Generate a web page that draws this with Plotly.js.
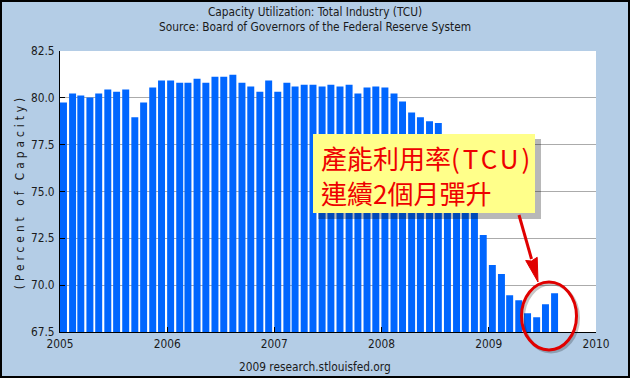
<!DOCTYPE html>
<html>
<head>
<meta charset="utf-8">
<script src="https://cdn.plot.ly/plotly-3.0.1.min.js"></script>
<style>
  html, body { margin: 0; padding: 0; overflow: hidden; background: #b4cde6; }
  #wrap { position: relative; width: 630px; height: 378px; }
  #chart { position: absolute; left: 0; top: 0; width: 630px; height: 378px; }
  #frame { position: absolute; left: 0; top: 0; width: 630px; height: 378px; box-sizing: border-box; border: 2px solid #000; pointer-events: none; }
  .g-ytitle text { letter-spacing: 4px; }
</style>
</head>
<body>
<div id="wrap"><div id="chart"></div><div id="frame"></div></div>
<script>
// Monthly capacity utilization, total industry (percent of capacity)
const months = [
  '2005-01','2005-02','2005-03','2005-04','2005-05','2005-06','2005-07','2005-08','2005-09','2005-10','2005-11','2005-12',
  '2006-01','2006-02','2006-03','2006-04','2006-05','2006-06','2006-07','2006-08','2006-09','2006-10','2006-11','2006-12',
  '2007-01','2007-02','2007-03','2007-04','2007-05','2007-06','2007-07','2007-08','2007-09','2007-10','2007-11','2007-12',
  '2008-01','2008-02','2008-03','2008-04','2008-05','2008-06','2008-07','2008-08','2008-09','2008-10','2008-11','2008-12',
  '2009-01','2009-02','2009-03','2009-04','2009-05','2009-06','2009-07','2009-08'
];
const tcu = [
  79.75, 80.23, 80.12, 80.02, 80.23, 80.44, 80.33, 80.44, 78.96, 79.75, 80.55, 80.92,
  80.92, 80.81, 80.81, 81.02, 80.81, 81.13, 81.13, 81.23, 80.81, 80.60, 80.33, 80.92,
  80.33, 80.81, 80.60, 80.70, 80.70, 80.60, 80.70, 80.60, 80.70, 80.23, 80.55, 80.60,
  80.55, 80.23, 79.80, 79.22, 78.96, 78.75, 78.65, 77.90, 76.40, 76.00, 75.00, 72.68,
  71.07, 70.59, 69.46, 69.20, 68.50, 68.29, 68.98, 69.57
];
const yTicks = [67.5, 70.0, 72.5, 75.0, 77.5, 80.0, 82.5];
const xTickYears = ['2005','2006','2007','2008','2009','2010'];

const chartTitle = 'Capacity Utilization: Total Industry (TCU)<br>Source: Board of Governors of the Federal Reserve System';
const yTitle = '(Percent of Capacity)';
const footer = '2009 research.stlouisfed.org';
const calloutLine1 = '產能利用率<span style="letter-spacing:3px">(TCU)</span>';
const calloutLine2 = '連續2個月彈升';

const DAY = 86400000;
const barWidth = 0.78 * 30.44 * DAY;
const baseFont = 'DejaVu Sans Condensed, DejaVu Sans, sans-serif';
const cjkFont = 'Noto Sans CJK TC, Noto Sans CJK SC, sans-serif';
const fs = 11.8;
const txtColor = '#1a1a1a';

const trace = {
  type: 'bar',
  x: months.map(m => m + '-01'),
  y: tcu,
  width: months.map(() => barWidth),
  offset: 0,
  marker: { color: '#0066ff', line: { width: 0 } },
  hoverinfo: 'x+y'
};

// pixel helpers for decorations (plot area: x 60..596, y 51..332)
const px = v => (v - 60) / 536;
const py = v => (332 - v) / 281;

const layout = {
  width: 630, height: 378,
  margin: { l: 60, r: 34, t: 51, b: 46, pad: 0 },
  paper_bgcolor: '#b4cde6',
  plot_bgcolor: '#ffffff',
  showlegend: false,
  font: { family: baseFont, size: fs, color: txtColor },
  title: {
    text: chartTitle,
    font: { family: baseFont, size: fs, color: txtColor },
    xref: 'container', x: 0.5, xanchor: 'center',
    yref: 'container', y: 1 - 15.5 / 378, yanchor: 'middle'
  },
  xaxis: {
    type: 'date',
    range: ['2005-01-01', '2010-01-01'],
    tickvals: xTickYears.map(y => y + '-01-01'),
    ticktext: xTickYears,
    ticks: 'inside', ticklen: 5, tickcolor: '#000', tickwidth: 1,
    ticklabelstandoff: 1,
    showline: true, linecolor: '#000', linewidth: 1,
    showgrid: false, zeroline: false,
    tickfont: { family: baseFont, size: fs, color: txtColor },
    fixedrange: true
  },
  yaxis: {
    range: [67.5, 82.5],
    tickvals: yTicks,
    ticktext: yTicks.map(v => v.toFixed(1)),
    ticks: 'inside', ticklen: 5, tickcolor: '#000', tickwidth: 1,
    ticklabelstandoff: 2,
    showline: true, linecolor: '#000', linewidth: 1,
    showgrid: true, gridcolor: '#ababab', gridwidth: 1,
    zeroline: false,
    tickfont: { family: baseFont, size: fs, color: txtColor },
    title: { text: yTitle, font: { family: baseFont, size: fs, color: txtColor }, standoff: 3 },
    fixedrange: true
  },
  shapes: [
    // callout shadow
    { type: 'rect', xref: 'paper', yref: 'paper', layer: 'above',
      x0: px(318), x1: px(541), y0: py(219), y1: py(139),
      fillcolor: 'rgba(0,0,0,0.28)', line: { width: 0 } },
    // callout box
    { type: 'rect', xref: 'paper', yref: 'paper', layer: 'above',
      x0: px(313), x1: px(535), y0: py(213), y1: py(134),
      fillcolor: '#ffff8a', line: { width: 0 } },
    // ellipse shadow
    { type: 'circle', xref: 'paper', yref: 'paper', layer: 'above',
      x0: px(523.5), x1: px(578.5), y0: py(352), y1: py(284),
      line: { color: 'rgba(0,0,0,0.22)', width: 3 } },
    // ellipse
    { type: 'circle', xref: 'paper', yref: 'paper', layer: 'above',
      x0: px(521.5), x1: px(576.5), y0: py(350), y1: py(282),
      line: { color: '#e00000', width: 3 } },
    // arrow shaft
    { type: 'line', xref: 'paper', yref: 'paper', layer: 'above',
      x0: px(519), y0: py(215), x1: px(531.5), y1: py(259),
      line: { color: '#e00000', width: 3 } },
    // arrow head
    { type: 'path', xref: 'paper', yref: 'paper', layer: 'above',
      path: 'M' + px(538) + ',' + py(282) + ' L' + px(537.2) + ',' + py(257.3) +
            ' L' + px(531.5) + ',' + py(261) + ' L' + px(525.7) + ',' + py(260.5) + ' Z',
      fillcolor: '#e00000', line: { color: '#e00000', width: 1 } }
  ],
  annotations: [
    { text: calloutLine1, xref: 'paper', yref: 'paper',
      x: px(320), y: py(157), xanchor: 'left', yanchor: 'middle',
      showarrow: false, borderpad: 0,
      font: { family: cjkFont, size: 26, color: '#ee0000' } },
    { text: calloutLine2, xref: 'paper', yref: 'paper',
      x: px(320), y: py(193), xanchor: 'left', yanchor: 'middle',
      showarrow: false, borderpad: 0,
      font: { family: cjkFont, size: 26, color: '#ee0000' } },
    { text: footer, xref: 'paper', yref: 'paper',
      x: px(315), y: py(367), xanchor: 'center', yanchor: 'middle',
      showarrow: false, font: { family: baseFont, size: fs, color: txtColor } }
  ]
};

Plotly.newPlot('chart', [trace], layout, { displayModeBar: false, staticPlot: true });
</script>
</body>
</html>
